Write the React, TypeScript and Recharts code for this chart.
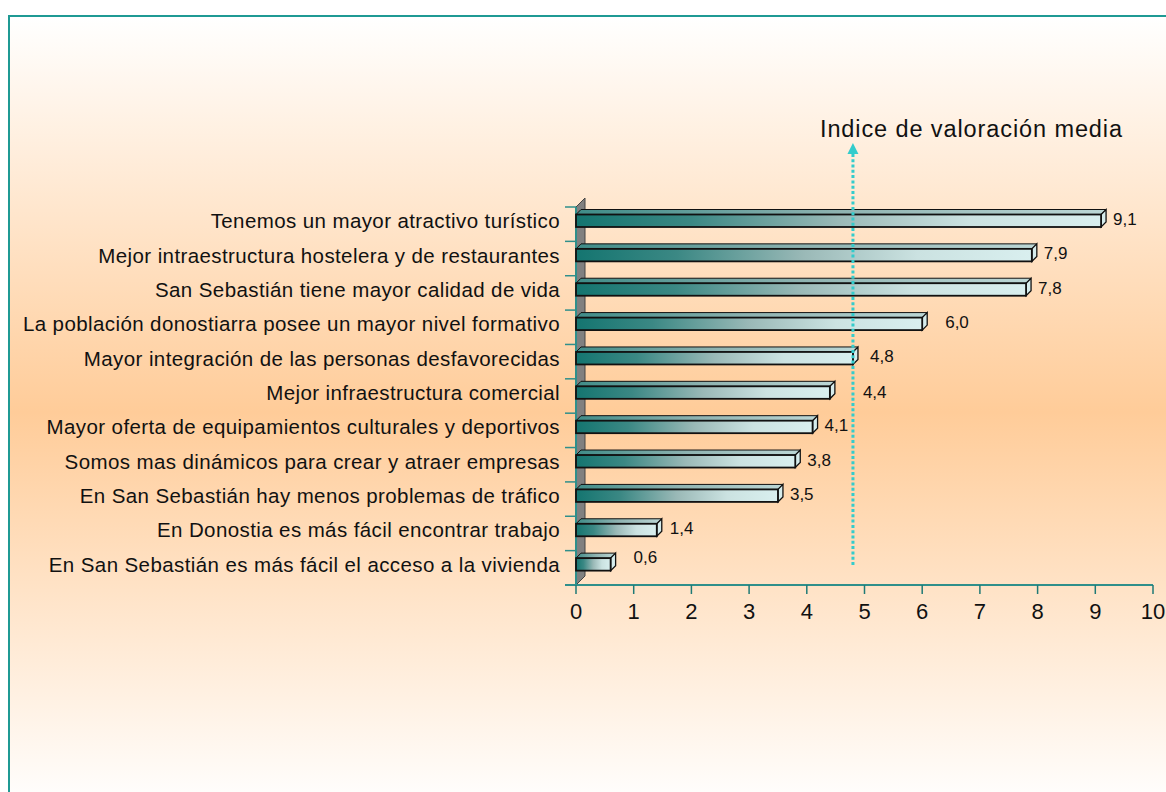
import React from 'react';
import { BarChart, Bar, XAxis, YAxis, LabelList, ReferenceLine, ReferenceArea } from 'recharts';

const categories = [
  'Tenemos un mayor atractivo turístico',
  'Mejor intraestructura hostelera y de restaurantes',
  'San Sebastián tiene mayor calidad de vida',
  'La población donostiarra posee un mayor nivel formativo',
  'Mayor integración de las personas desfavorecidas',
  'Mejor infraestructura comercial',
  'Mayor oferta de equipamientos culturales y deportivos',
  'Somos mas dinámicos para crear y atraer empresas',
  'En San Sebastián hay menos problemas de tráfico',
  'En Donostia es más fácil encontrar trabajo',
  'En San Sebastián es más fácil el acceso a la vivienda',
];
const values = [9.1, 7.9, 7.8, 6.0, 4.8, 4.4, 4.1, 3.8, 3.5, 1.4, 0.6];
const xTicks = [0, 1, 2, 3, 4, 5, 6, 7, 8, 9, 10];
const meanIndex = 4.8;
const meanLabel = 'Indice de valoración media';

const rows = categories.map((name, i) => ({ name, value: values[i] }));

const W = 1166;
const H = 792;
const M = { top: 207, right: 13, bottom: 167, left: 0 };
const X_AXIS_H = 40;
const BAND = (H - M.top - M.bottom - X_AXIS_H) / categories.length;
const FONT = '"Liberation Sans", Arial, Helvetica, sans-serif';
const TEAL = '#2f8f8b';

// labels that Excel pushed aside to avoid overlaps (pixel nudges by row)
const labelNudge: Record<number, [number, number]> = {
  3: [11, 0],
  4: [5, 0],
  5: [21, 1],
  9: [1, 0],
  10: [11, -6],
};

const Bar3D = (p: any) => {
  const { x, y, width, height } = p;
  const cy = y + height / 2;
  const d = 5;
  const ft = cy - 9.5;
  const fb = cy + 3;
  const r = x + width;
  return (
    <g>
      <defs>
        <linearGradient id="frontGrad" x1="0" y1="0" x2="1" y2="0">
          <stop offset="0" stopColor="#147570" />
          <stop offset="0.22" stopColor="#3b8884" />
          <stop offset="0.5" stopColor="#9ab9b7" />
          <stop offset="0.75" stopColor="#cbe2e1" />
          <stop offset="1" stopColor="#d9efef" />
        </linearGradient>
        <linearGradient id="topGrad" x1="0" y1="0" x2="1" y2="0">
          <stop offset="0" stopColor="#3f8c88" />
          <stop offset="0.5" stopColor="#8fb3b1" />
          <stop offset="1" stopColor="#bcd7d6" />
        </linearGradient>
      </defs>
      <polygon
        points={`${x},${ft} ${x + d},${ft - d} ${r + d},${ft - d} ${r},${ft}`}
        fill="url(#topGrad)"
        stroke="#111"
        strokeWidth={1}
      />
      <polygon
        points={`${r},${ft} ${r + d},${ft - d} ${r + d},${fb - d} ${r},${fb}`}
        fill="#d6ecec"
        stroke="#111"
        strokeWidth={1.3}
      />
      <rect x={x} y={ft} width={width} height={fb - ft} fill="url(#frontGrad)" stroke="#111" strokeWidth={1.8} />
    </g>
  );
};

const ValueLabel = (p: any) => {
  const { x, y, width, height, value, index } = p;
  const [nx, ny] = labelNudge[index] || [0, 0];
  return (
    <text x={x + width + 12 + nx} y={y + height / 2 + 1 + ny} fontSize={17} fontFamily={FONT} fill="#111">
      {Number(value).toFixed(1).replace('.', ',')}
    </text>
  );
};

const CategoryTick = (p: any) => {
  const { y, payload } = p;
  const ax = M.left + 576;
  return (
    <g>
      <line x1={ax - 11} x2={ax} y1={y - BAND / 2} y2={y - BAND / 2} stroke={TEAL} strokeWidth={1.5} />
      <text
        x={ax - 16}
        y={y + 4}
        textAnchor="end"
        fontSize={20.5}
        letterSpacing={0.4}
        fontFamily={FONT}
        fill="#111"
      >
        {payload.value}
      </text>
    </g>
  );
};

const Wall = (p: any) => {
  const { x, y, height } = p;
  const b = y + height;
  const d = 9;
  return (
    <g>
      <polygon
        points={`${x},${y} ${x + d},${y - d} ${x + d},${b - d} ${x},${b}`}
        fill="#808080"
        stroke="#444"
        strokeWidth={1}
      />
      <line x1={x} x2={x} y1={y} y2={b} stroke={TEAL} strokeWidth={2} />
      <line x1={x - 11} x2={x} y1={b} y2={b} stroke={TEAL} strokeWidth={2} />
    </g>
  );
};

const MeanArrow = (p: any) => {
  const x = p.x1;
  const top = Math.min(p.y1, p.y2);
  const bot = Math.max(p.y1, p.y2);
  return (
    <g>
      <line
        x1={x}
        x2={x}
        y1={bot - 20}
        y2={top - 53}
        stroke="#33cccc"
        strokeWidth={3}
        strokeDasharray="3 2.3"
      />
      <polygon points={`${x - 5.5},${top - 53} ${x + 5.5},${top - 53} ${x},${top - 64}`} fill="#33cccc" />
      <text x={x - 33} y={top - 70} fontSize={23.5} letterSpacing={0.9} fontFamily={FONT} fill="#111">
        {meanLabel}
      </text>
    </g>
  );
};

export default function App() {
  return (
    <div
      style={{
        position: 'fixed',
        left: 0,
        top: 0,
        width: W,
        height: H,
        background: '#fff',
        overflow: 'hidden',
      }}
    >
      <div
        style={{
          position: 'absolute',
          left: 8,
          top: 15,
          width: 1180,
          height: 790,
          border: '2px solid #1f9a94',
          background: 'linear-gradient(to bottom, #ffffff 0%, #ffcc99 50%, #ffffff 100%)',
        }}
      />
      <div style={{ position: 'absolute', left: 0, top: 0 }}>
        <BarChart width={W} height={H} data={rows} layout="vertical" margin={M} barSize={16}>
          <XAxis
            type="number"
            domain={[0, 10]}
            ticks={xTicks}
            interval={0}
            height={X_AXIS_H}
            axisLine={{ stroke: TEAL, strokeWidth: 2 }}
            tickLine={{ stroke: '#1f7a76', strokeWidth: 1.5 }}
            tickSize={9}
            tickMargin={9}
            tick={{ fontSize: 22, fill: '#111', fontFamily: FONT }}
          />
          <YAxis
            type="category"
            dataKey="name"
            width={576}
            interval={0}
            axisLine={false}
            tickLine={false}
            tick={CategoryTick}
          />
          <ReferenceArea x1={0} x2={10} shape={Wall} ifOverflow="visible" />
          <Bar dataKey="value" shape={Bar3D} isAnimationActive={false}>
            <LabelList dataKey="value" content={ValueLabel} />
          </Bar>
          <ReferenceLine x={meanIndex} shape={MeanArrow} ifOverflow="visible" />
        </BarChart>
      </div>
    </div>
  );
}
